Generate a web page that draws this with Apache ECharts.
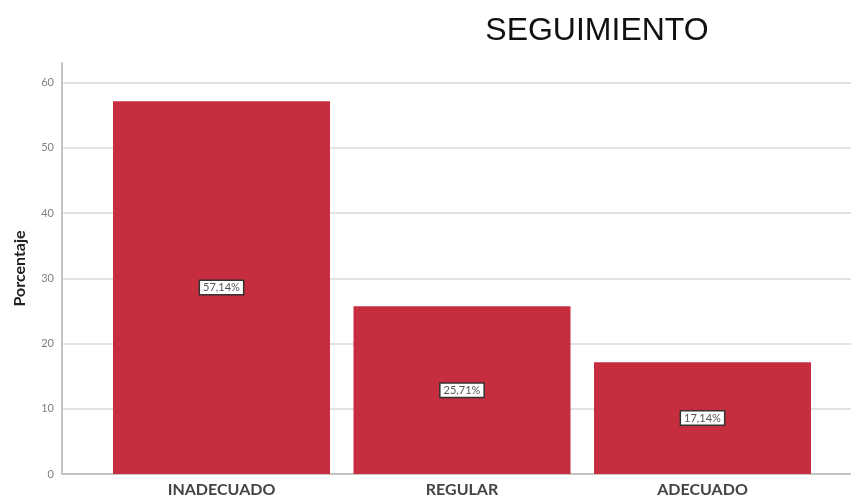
<!DOCTYPE html>
<html>
<head>
<meta charset="utf-8">
<style>
  html, body { margin: 0; padding: 0; background: #ffffff; }
  #chart { width: 851px; height: 500px; }
</style>
<script src="https://cdn.jsdelivr.net/npm/echarts@6/dist/echarts.min.js"></script>
</head>
<body>
<div id="chart"></div>
<script>
// Categories and percentage values
const categories = ['INADECUADO', 'REGULAR', 'ADECUADO'];
const percentages = [57.14, 25.71, 17.14];
const yMax = 63;
const yStep = 10;

const chart = echarts.init(document.getElementById('chart'), null, { renderer: 'canvas' });

const plotTop = 63;
const plotBottom = 26;

chart.setOption({
  animation: false,
  backgroundColor: '#ffffff',
  title: {
    text: 'SEGUIMIENTO',
    left: 592,
    top: 10,
    textAlign: 'center',
    textStyle: {
      fontFamily: 'Liberation Sans, Arial, sans-serif',
      fontSize: 32,
      fontWeight: 'normal',
      color: '#111111'
    }
  },
  grid: [
    // frame: axes lines, ticks and gridlines
    { left: 62, right: 0, top: plotTop, bottom: plotBottom },
    // bars: narrower category band
    { left: 101.25, right: 28.25, top: plotTop, bottom: plotBottom }
  ],
  xAxis: [
    {
      gridIndex: 0, type: 'value', min: 0, max: 1,
      axisLine: { show: true, onZero: false, lineStyle: { color: '#c4c4c4', width: 2 } },
      axisTick: { show: false }, axisLabel: { show: false }, splitLine: { show: false }
    },
    {
      gridIndex: 1, type: 'category', data: categories,
      axisLine: { show: false }, axisTick: { show: false },
      axisLabel: {
        margin: 8,
        fontFamily: 'Lato, "Open Sans", sans-serif',
        fontSize: 16, fontWeight: 'bold', color: '#444444'
      }
    }
  ],
  yAxis: [
    {
      gridIndex: 0, type: 'value', min: 0, max: yMax, interval: yStep,
      name: 'Porcentaje', nameLocation: 'middle', nameGap: 34, nameRotate: 90,
      nameTextStyle: {
        fontFamily: 'Lato, "Open Sans", sans-serif',
        fontSize: 16, fontWeight: 'bold', color: '#222222'
      },
      axisLine: { show: true, lineStyle: { color: '#c4c4c4', width: 2 } },
      axisTick: { show: false },
      axisLabel: {
        showMaxLabel: false, margin: 8,
        fontFamily: 'Lato, "Open Sans", sans-serif', fontSize: 11, color: '#808080'
      },
      splitLine: { show: true, showMaxLine: false, showMinLine: false, lineStyle: { color: '#e2e2e2', width: 2 } }
    },
    {
      gridIndex: 1, type: 'value', min: 0, max: yMax, interval: yStep, show: false,
      splitLine: { show: false }
    }
  ],
  series: [{
    type: 'bar',
    xAxisIndex: 1,
    yAxisIndex: 1,
    data: percentages,
    barWidth: 217,
    itemStyle: { color: '#c62d3f' },
    label: {
      show: true,
      position: 'inside',
      formatter: p => p.value.toFixed(2).replace('.', ',') + '%',
      fontFamily: 'Lato, "Open Sans", sans-serif',
      fontSize: 11,
      color: '#555555',
      backgroundColor: '#ffffff',
      borderColor: '#333333',
      borderWidth: 1.5,
      padding: [1, 3, 1, 3]
    }
  }]
});
</script>
</body>
</html>
